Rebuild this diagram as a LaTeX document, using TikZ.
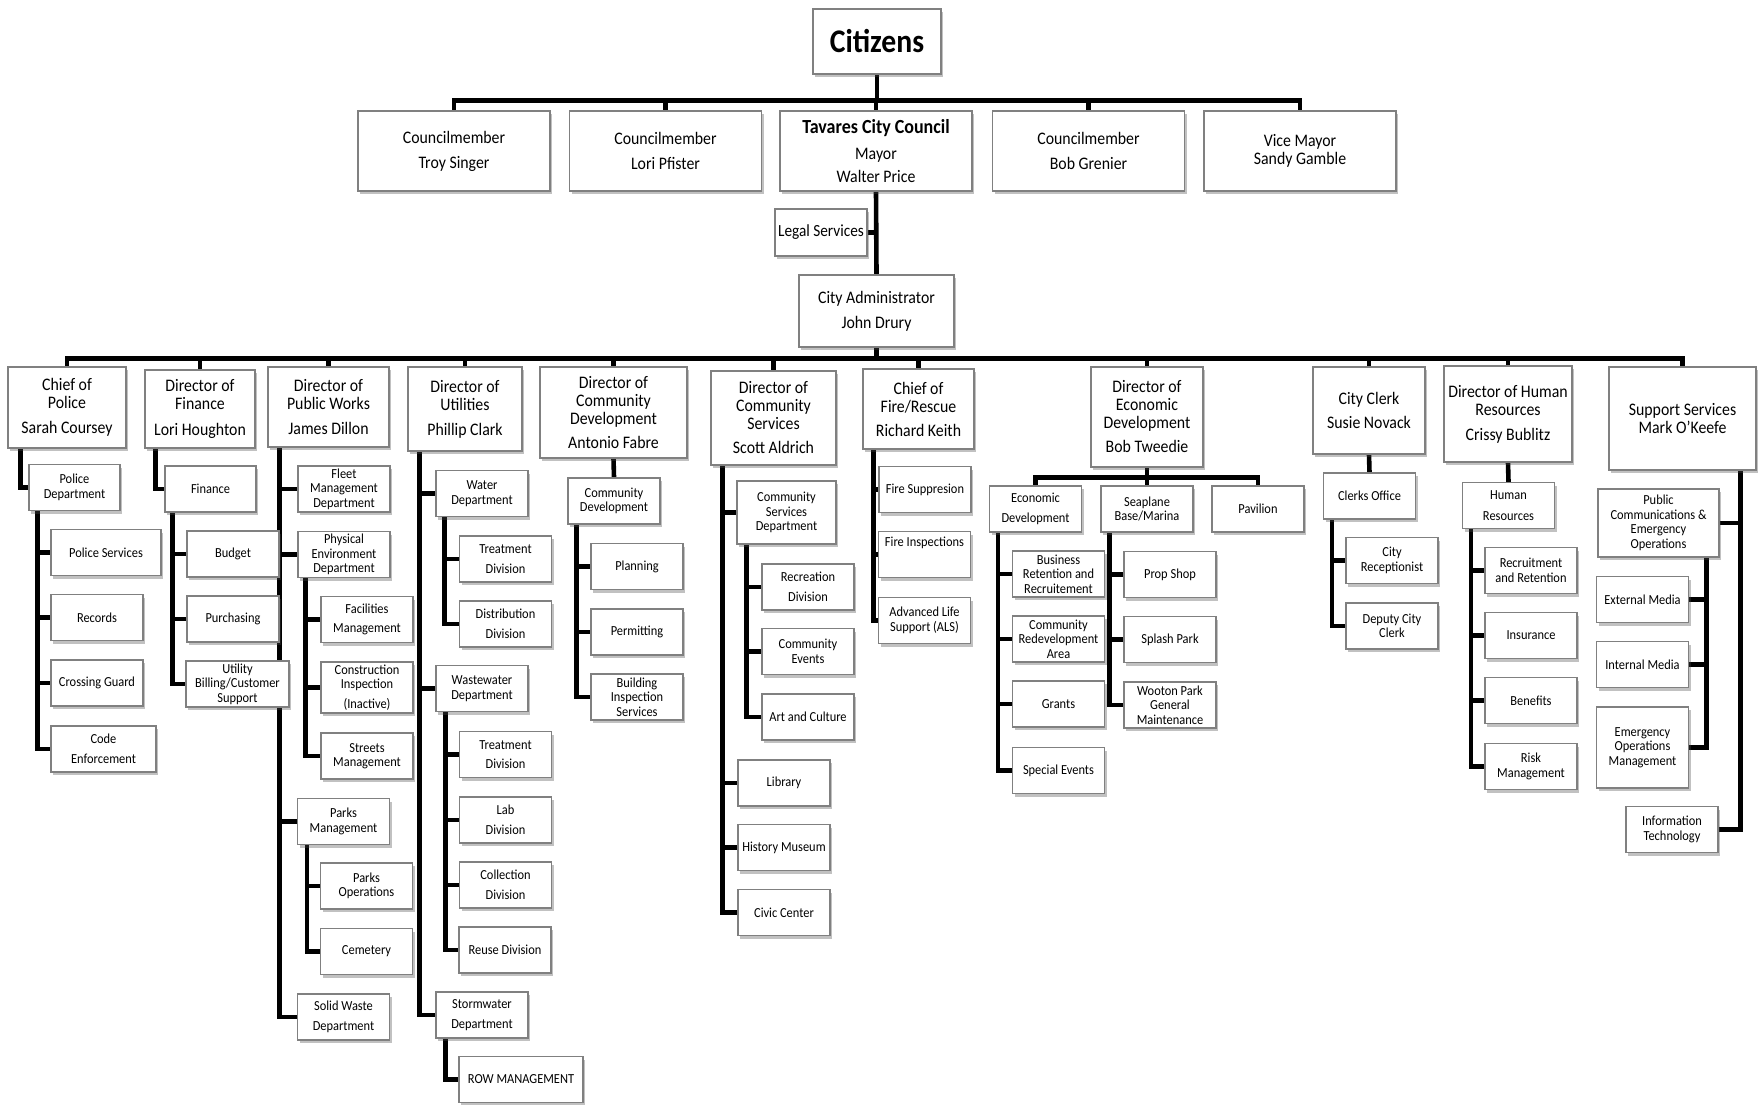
\documentclass[tikz,border=0pt]{standalone}
\usepackage{fontspec}
\setmainfont{Carlito}[FakeStretch=0.9]
\usetikzlibrary{shadows,backgrounds}

\begin{document}
\begin{tikzpicture}[x=1pt, y=-1pt,
  box/.style={draw=black!50, line width=1.1pt, fill=white, align=center, inner sep=2pt,
    drop shadow={shadow xshift=2pt, shadow yshift=-3pt, opacity=0.35, fill=black!70}},
  top/.style={box, minimum width=192pt, minimum height=80pt, font=\fontsize{17.6}{18}\selectfont},
  head/.style={box, font=\fontsize{17.6}{18}\selectfont},
  unit/.style={box, minimum width=92pt, minimum height=46pt, font=\fontsize{13.8}{14.5}\selectfont},
  link/.style={line width=4.6pt, black}]
  \useasboundingbox (0,0) rectangle (1764,1105);

  %% Citizens and council
  \node[box, minimum width=128pt, minimum height=65pt, font=\fontsize{33}{34}\selectfont\bfseries]
    (cit) at (877,41.5) {Citizens};
  \node[top] (troy) at (454,151) {Councilmember\\[7pt]Troy Singer};
  \node[top] (lori) at (665.5,151) {Councilmember\\[7pt]Lori Pfister};
  \node[top] (tav) at (876,151) {{\fontsize{20}{20}\selectfont\bfseries Tavares City Council}\\[8pt]Mayor\\[5pt]Walter Price};
  \node[top] (bob) at (1088.5,151) {Councilmember\\[7pt]Bob Grenier};
  \node[top] (sandy) at (1300,151) {Vice Mayor\\Sandy Gamble};
  \node[unit, minimum height=47pt, font=\fontsize{17}{18}\selectfont] (legal) at (821,232.5) {Legal Services};
  \node[head, minimum width=155pt, minimum height=72pt] (cadm) at (876.5,311) {City Administrator\\[7pt]John Drury};

  %% Department heads
  \node[head, minimum width=118pt, minimum height=81pt] (cpol) at (67,407.5) {Chief of\\Police\\[7pt]Sarah Coursey};
  \node[head, minimum width=110pt, minimum height=78pt] (dfin) at (200,409) {Director of\\Finance\\[8pt]Lori Houghton};
  \node[head, minimum width=121pt, minimum height=80pt] (dpw) at (328.5,407) {Director of\\Public Works\\[7pt]James Dillon};
  \node[head, minimum width=114pt, minimum height=84pt] (dut) at (465,409) {Director of\\Utilities\\[7pt]Phillip Clark};
  \node[head, minimum width=147pt, minimum height=91pt] (dcd) at (613.5,412.5) {Director of\\Community\\Development\\[6pt]Antonio Fabre};
  \node[head, minimum width=125pt, minimum height=94pt] (dcs) at (773.5,418) {Director of\\Community\\Services\\[6pt]Scott Aldrich};
  \node[head, minimum width=111pt, minimum height=80pt] (dfire) at (918.5,409) {Chief of\\Fire/Rescue\\[6pt]Richard Keith};
  \node[head, minimum width=112pt, minimum height=100pt] (deco) at (1147,417) {Director of\\Economic\\Development\\[6pt]Bob Tweedie};
  \node[head, minimum width=112pt, minimum height=87pt] (clerk) at (1369,410.5) {City Clerk\\[6pt]Susie Novack};
  \node[head, minimum width=128pt, minimum height=96pt] (dhr) at (1508,414) {Director of Human\\Resources\\[7pt]Crissy Bublitz};
  \node[head, minimum width=147pt, minimum height=103pt] (supp) at (1682.5,418.5) {Support Services\\Mark O'Keefe};

  %% Police
  \node[unit, minimum width=91pt] (pdep) at (74.5,487.5) {Police\\Department};
  \node[unit, minimum width=110pt] (psvc) at (106,552.5) {Police Services};
  \node[unit] (rec) at (97,617.5) {Records};
  \node[unit] (cross) at (97,683) {Crossing Guard};
  \node[unit, minimum width=105pt] (code) at (103.5,749) {Code\\[5pt]Enforcement};

  %% Finance
  \node[unit, minimum width=91pt] (fin) at (210.5,489) {Finance};
  \node[unit] (bud) at (233,554) {Budget};
  \node[unit] (pur) at (233,619) {Purchasing};
  \node[unit, minimum width=103pt] (ubill) at (237.5,684) {Utility\\Billing/Customer\\Support};

  %% Public works
  \node[unit] (fleet) at (344,489) {Fleet\\Management\\Department};
  \node[unit] (phys) at (344,554.5) {Physical\\Environment\\Department};
  \node[unit] (facil) at (367,619.5) {Facilities\\[5pt]Management};
  \node[unit, minimum height=51pt] (constr) at (367,687.5) {Construction\\Inspection\\[5pt](Inactive)};
  \node[unit] (streets) at (367,756) {Streets\\Management};
  \node[unit] (parksm) at (343.5,821.5) {Parks\\Management};
  \node[unit] (parkso) at (366.5,886) {Parks\\Operations};
  \node[unit] (cem) at (366.5,951.5) {Cemetery};
  \node[unit] (solid) at (343.5,1017) {Solid Waste\\[5pt]Department};

  %% Utilities
  \node[unit] (water) at (482,493.5) {Water\\Department};
  \node[unit] (treat1) at (505.5,559) {Treatment\\[5pt]Division};
  \node[unit] (distr) at (505.5,624) {Distribution\\[5pt]Division};
  \node[unit] (waste) at (482,688.5) {Wastewater\\Department};
  \node[unit] (treat2) at (505.5,754.5) {Treatment\\[5pt]Division};
  \node[unit] (lab) at (505.5,820) {Lab\\[6pt]Division};
  \node[unit] (coll) at (505.5,885) {Collection\\[5pt]Division};
  \node[unit] (reuse) at (505,950) {Reuse Division};
  \node[unit] (storm) at (482,1015) {Stormwater\\[5pt]Department};
  \node[unit, minimum width=124pt] (row) at (521,1079.5) {ROW MANAGEMENT};

  %% Community development
  \node[unit] (cdd) at (614,501) {Community\\Development};
  \node[unit] (plan) at (637,566.5) {Planning};
  \node[unit] (perm) at (637,632) {Permitting};
  \node[unit] (bis) at (637,697) {Building\\Inspection\\Services};

  %% Community services
  \node[unit, minimum width=99pt, minimum height=63pt] (csd) at (786.5,512.5) {Community\\Services\\Department};
  \node[unit] (recr) at (808,587) {Recreation\\[5pt]Division};
  \node[unit] (cev) at (808,651.5) {Community\\Events};
  \node[unit] (art) at (808,717) {Art and Culture};
  \node[unit] (lib) at (784,783) {Library};
  \node[unit] (hist) at (784,847.5) {History Museum};
  \node[unit] (civic) at (784,912.5) {Civic Center};

  %% Fire
  \node[unit] (fsup) at (925,489.5) {Fire Suppresion};
  \node[unit] (finsp) at (924.5,554.5) {Fire Inspections\\[12pt]\mbox{}};
  \node[unit] (als) at (924.5,620.5) {Advanced Life\\Support (ALS)};

  %% Economic development
  \node[unit] (edev) at (1035.5,509) {Economic\\[5pt]Development};
  \node[unit] (sea) at (1147,509) {Seaplane\\Base/Marina};
  \node[unit] (pav) at (1258,509) {Pavilion};
  \node[unit] (bret) at (1058.5,574) {Business\\Retention and\\Recruitement};
  \node[unit] (cra) at (1058.5,639) {Community\\Redevelopment\\Area};
  \node[unit] (grants) at (1058.5,704) {Grants};
  \node[unit] (sev) at (1058.5,770.5) {Special Events};
  \node[unit] (prop) at (1170,574.5) {Prop Shop};
  \node[unit] (splash) at (1170,639.5) {Splash Park};
  \node[unit] (woot) at (1170,705) {Wooton Park\\General\\Maintenance};

  %% City clerk
  \node[unit] (cko) at (1369.5,496) {Clerks Office};
  \node[unit] (crec) at (1392,560.5) {City\\Receptionist};
  \node[unit] (dcc) at (1392,626) {Deputy City\\Clerk};

  %% Human resources
  \node[unit] (hres) at (1508.5,505.5) {Human\\[6pt]Resources};
  \node[unit] (rret) at (1531,570.5) {Recruitment\\and Retention};
  \node[unit] (ins) at (1531,635.5) {Insurance};
  \node[unit] (ben) at (1531,700.5) {Benefits};
  \node[unit] (risk) at (1531,766.5) {Risk\\Management};

  %% Support services
  \node[unit, minimum width=121pt, minimum height=68pt] (pubc) at (1658.5,523) {Public\\Communications \&\\Emergency\\Operations};
  \node[unit] (ext) at (1642.5,599.5) {External Media};
  \node[unit] (intm) at (1642.5,664.5) {Internal Media};
  \node[unit, minimum height=81pt] (eom) at (1642.5,747.5) {Emergency\\Operations\\Management};
  \node[unit] (it) at (1672,829.5) {Information\\Technology};

  \begin{pgfonlayer}{background}
  %% Top connectors
  \foreach \c in {troy,lori,tav,bob,sandy}
    \draw[link] (cit.south) -- ++(0,26) -| (\c.north);
  \draw[link] (tav.south) -- (cadm.north);
  \draw[link] (legal.east) -- (legal.east -| tav.south);
  \foreach \d in {cpol,dfin,dpw,dut,dcd,dcs,dfire,deco,clerk,dhr,supp}
    \draw[link] (cadm.south) -- ++(0,11) -| (\d.north);

  %% Police links
  \draw[link] ([xshift=13pt]cpol.south west) |- (pdep.west);
  \foreach \c in {psvc,rec,cross,code}
    \draw[link] ([xshift=9pt]pdep.south west) |- (\c.west);

  %% Finance links
  \draw[link] ([xshift=11pt]dfin.south west) |- (fin.west);
  \foreach \c in {bud,pur,ubill}
    \draw[link] ([xshift=8pt]fin.south west) |- (\c.west);

  %% Public works links
  \foreach \c in {fleet,phys,parksm,solid}
    \draw[link] ([xshift=12pt]dpw.south west) |- (\c.west);
  \foreach \c in {facil,constr,streets}
    \draw[link] ([xshift=8pt]phys.south west) |- (\c.west);
  \foreach \c in {parkso,cem}
    \draw[link] ([xshift=10pt]parksm.south west) |- (\c.west);

  %% Utilities links
  \foreach \c in {water,waste,storm}
    \draw[link] ([xshift=12pt]dut.south west) |- (\c.west);
  \foreach \c in {treat1,distr}
    \draw[link] ([xshift=9pt]water.south west) |- (\c.west);
  \foreach \c in {treat2,lab,coll,reuse}
    \draw[link] ([xshift=10pt]waste.south west) |- (\c.west);
  \draw[link] ([xshift=10pt]storm.south west) |- (row.west);

  %% Community development links
  \draw[link] (dcd.south) -- (cdd.north);
  \foreach \c in {plan,perm,bis}
    \draw[link] ([xshift=9pt]cdd.south west) |- (\c.west);

  %% Community services links
  \foreach \c in {csd,lib,hist,civic}
    \draw[link] ([xshift=12pt]dcs.south west) |- (\c.west);
  \foreach \c in {recr,cev,art}
    \draw[link] ([xshift=10pt]csd.south west) |- (\c.west);

  %% Fire links
  \foreach \c in {fsup,finsp,als}
    \draw[link] ([xshift=11pt]dfire.south west) |- (\c.west);

  %% Economic development links
  \foreach \c in {edev,sea,pav}
    \draw[link] (deco.south) -- ++(0,10) -| (\c.north);
  \foreach \c in {bret,cra,grants,sev}
    \draw[link] ([xshift=9pt]edev.south west) |- (\c.west);
  \foreach \c in {prop,splash,woot}
    \draw[link] ([xshift=9pt]sea.south west) |- (\c.west);

  %% Clerk links
  \draw[link] (clerk.south) -- (cko.north);
  \foreach \c in {crec,dcc}
    \draw[link] ([xshift=9pt]cko.south west) |- (\c.west);

  %% HR links
  \draw[link] (dhr.south) -- (hres.north);
  \foreach \c in {rret,ins,ben,risk}
    \draw[link] ([xshift=9pt]hres.south west) |- (\c.west);

  %% Support links (on the right side)
  \foreach \c in {pubc,it}
    \draw[link] ([xshift=-16pt]supp.south east) |- (\c.east);
  \foreach \c in {ext,intm,eom}
    \draw[link] ([xshift=-13pt]pubc.south east) |- (\c.east);
  \end{pgfonlayer}
\end{tikzpicture}
\end{document}
